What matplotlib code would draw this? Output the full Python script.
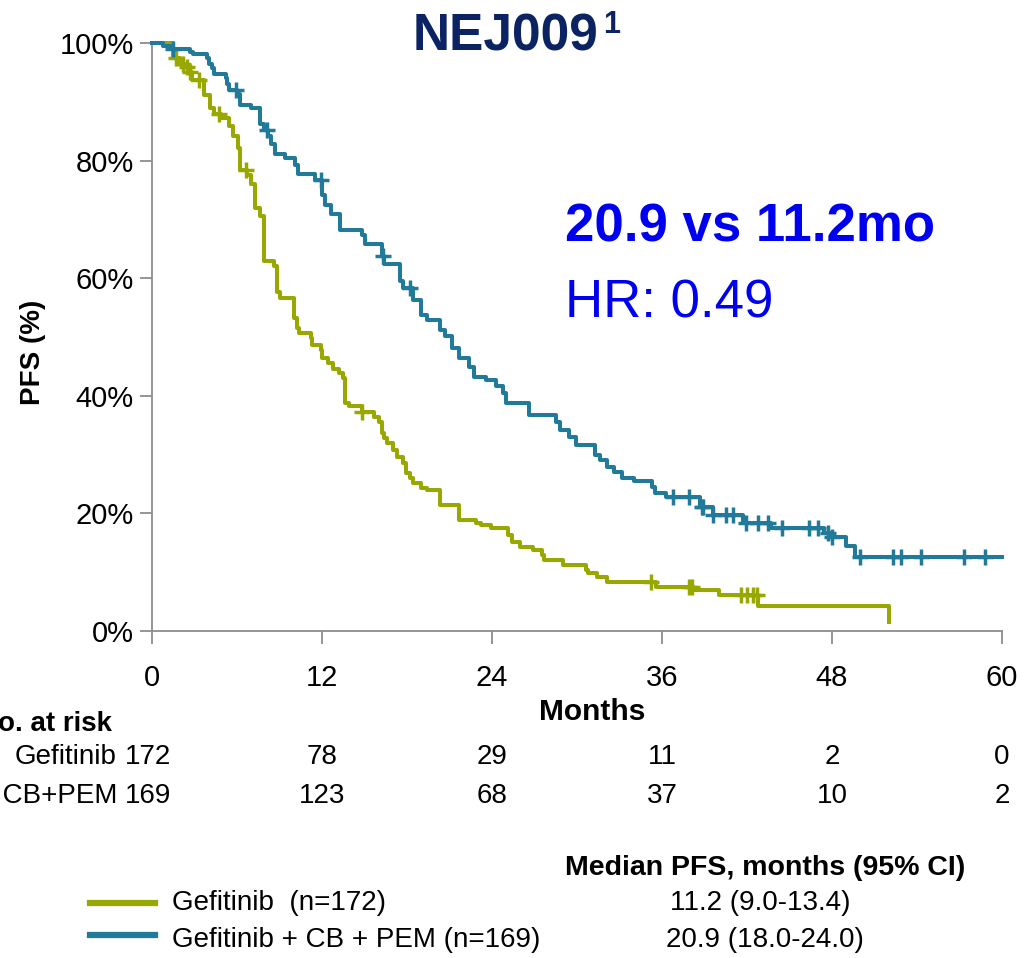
import numpy as np
import matplotlib
matplotlib.use("Agg")
import matplotlib.pyplot as plt
import matplotlib.transforms as mtransforms

plt.rcParams['font.family'] = ['Liberation Sans', 'DejaVu Sans']

# ---------------- data ----------------
months_ticks = [0, 12, 24, 36, 48, 60]
pct_ticks = [0, 20, 40, 60, 80, 100]

combo_t = [0, 0.8, 1.5, 2.7, 2.9, 3.9, 4.0, 4.2, 4.4, 5.2, 5.3, 5.4, 6.0, 6.2, 7.0, 7.6,
           7.9, 8.2, 8.4, 8.7, 9.4, 10.1, 10.3, 11.5, 12.0, 12.2, 12.6, 13.3, 14.8, 15.0,
           16.2, 16.4, 17.5, 17.7, 18.4, 19.0, 19.4, 20.3, 20.7, 21.2, 21.7, 22.4, 22.7,
           23.6, 24.3, 24.8, 25.0, 26.6, 28.5, 28.8, 29.4, 29.9, 31.3, 31.6, 32.1, 32.6,
           33.2, 34.0, 35.3, 35.5, 36.3, 38.7, 39.6, 41.7, 43.7, 47.4, 48.0, 49.0, 49.6, 60.0]
combo_s = [100, 99.5, 98.9, 98.5, 98.1, 97.4, 96.5, 95.7, 94.8, 94.0, 93.1, 92.0, 91.4, 89.5,
           88.9, 86.3, 85.2, 84.1, 82.9, 81.2, 80.5, 79.3, 77.8, 76.7, 74.1, 72.4, 71.0, 68.2,
           67.3, 65.9, 63.7, 62.4, 59.5, 58.3, 56.3, 53.7, 52.9, 51.2, 50.1, 48.1, 46.4, 44.9,
           43.2, 42.7, 41.6, 40.4, 38.7, 36.7, 35.6, 34.2, 33.0, 31.6, 29.9, 29.1, 27.9, 27.1,
           26.0, 25.5, 24.5, 23.4, 22.8, 21.1, 19.8, 18.3, 17.5, 16.7, 16.0, 14.5, 12.6, 12.6]
combo_cens = [1.5, 5.9, 8.1, 11.9, 16.3, 18.2, 36.8, 37.9, 38.8, 38.9, 39.6, 40.5, 41.0,
              41.9, 42.8, 43.5, 44.5, 46.4, 47.0, 47.7, 48.0, 50.0, 52.3, 52.9, 54.3, 57.3, 58.8]

gef_t = [0, 1.5, 2.0, 2.3, 2.6, 2.8, 3.7, 4.1, 4.4, 4.9, 5.4, 5.7, 6.1, 6.2, 6.7, 7.0, 7.3,
         7.6, 7.9, 8.6, 8.8, 9.0, 10.0, 10.2, 10.4, 11.2, 11.3, 11.9, 12.0, 12.4, 12.8, 13.2,
         13.5, 13.6, 13.9, 14.8, 15.7, 16.0, 16.2, 16.4, 16.6, 17.0, 17.3, 17.7, 17.9, 18.2,
         18.4, 19.0, 19.4, 20.3, 21.7, 22.9, 23.2, 23.9, 25.1, 25.4, 26.0, 26.9, 27.5, 27.7,
         29.0, 30.6, 30.8, 31.4, 32.1, 35.6, 38.2, 40.0, 42.8, 52.0]
gef_s = [100, 97.4, 96.5, 96.0, 95.1, 93.7, 91.2, 88.9, 88.0, 87.2, 85.8, 84.1, 82.1, 78.4,
         77.6, 76.1, 71.9, 70.5, 63.0, 62.0, 57.7, 56.6, 53.2, 51.5, 50.6, 49.8, 48.6, 47.8,
         46.4, 45.5, 44.6, 43.8, 43.0, 38.7, 38.2, 37.3, 36.4, 35.6, 33.6, 32.8, 31.9, 30.8,
         29.6, 28.5, 26.8, 26.0, 25.1, 24.3, 24.0, 21.4, 18.9, 18.3, 18.0, 17.5, 16.3, 15.2,
         14.3, 13.8, 12.9, 12.1, 11.2, 10.4, 9.8, 9.2, 8.4, 7.5, 7.0, 6.1, 4.3, 1.6]
gef_cens = [1.7, 2.2, 2.45, 2.7, 3.3, 4.7, 6.6, 14.8, 35.2, 37.9, 38.1, 41.6, 42.0, 42.4, 42.7]

risk_gef = [172, 78, 29, 11, 2, 0]
risk_combo = [169, 123, 68, 37, 10, 2]

GREEN = '#99A800'
BLUE = '#217A9A'
NAVY = '#0B2362'
TXTBLUE = '#0000F0'
GRAY = '#8C8C8C'

W, H = 1025, 958
fig = plt.figure(figsize=(W / 100, H / 100), dpi=100)
ax = fig.add_axes([152 / W, 1 - 631 / H, 850 / W, 588 / H])


def surv_at(t_arr, s_arr, times):
    idx = np.searchsorted(np.asarray(t_arr), np.asarray(times), side='right') - 1
    return np.asarray(s_arr)[idx]


for t, s, c, col in [(gef_t, gef_s, gef_cens, GREEN), (combo_t, combo_s, combo_cens, BLUE)]:
    ax.step(t, s, where='post', color=col, lw=2.9, clip_on=False, zorder=3)
    ax.plot(c, surv_at(t, s, c), linestyle='none', marker='+', ms=12, mew=2.5,
            color=col, clip_on=False, zorder=4)

ax.set_xlim(0, 60)
ax.set_ylim(0, 100)
ax.set_xticks(months_ticks)
ax.set_xticklabels([str(m) for m in months_ticks])
ax.set_yticks(pct_ticks)
ax.set_yticklabels([f'{p}%' for p in pct_ticks])
for sp in ['top', 'right']:
    ax.spines[sp].set_visible(False)
for sp in ['left', 'bottom']:
    ax.spines[sp].set_color(GRAY)
    ax.spines[sp].set_linewidth(1.3)
ax.tick_params(axis='both', colors=GRAY, length=9, width=1.3, labelcolor='black', labelsize=21)
ax.tick_params(axis='x', pad=15)
ax.tick_params(axis='y', pad=4)


def fx(x):
    return x / W


def fy(y):
    return 1 - y / H


fig.text(fx(33), fy(352), 'PFS (%)', rotation=90, fontsize=20, fontweight='bold',
         ha='center', va='center')
fig.text(fx(592), fy(712), 'Months', fontsize=21.5, fontweight='bold', ha='center', va='center')

# title
fig.text(fx(506), fy(37), 'NEJ009', fontsize=37, fontweight='bold', color=NAVY,
         ha='center', va='center')
fig.text(fx(603), fy(25), '1', fontsize=22, fontweight='bold', color=NAVY,
         ha='left', va='center')
fig.text(fx(565), fy(228), '20.9 vs 11.2mo', fontsize=38, fontweight='bold', color=TXTBLUE,
         ha='left', va='center')
fig.text(fx(565), fy(304), 'HR: 0.49', fontsize=38, color=TXTBLUE, ha='left', va='center')

# risk table
blend = mtransforms.blended_transform_factory(ax.transData, fig.transFigure)
fig.text(fx(112), fy(724), 'No. at risk', fontsize=20, fontweight='bold', ha='right', va='center')
fig.text(fx(117), fy(757), 'Gefitinib', fontsize=20, ha='right', va='center')
fig.text(fx(117), fy(796), 'Gefitinib + CB+PEM', fontsize=20, ha='right', va='center')
for m, g, c in zip(months_ticks, risk_gef, risk_combo):
    xm = m if m > 0 else -0.3
    ax.text(xm, fy(757), str(g), transform=blend, fontsize=20, ha='center', va='center')
    ax.text(xm, fy(796), str(c), transform=blend, fontsize=20, ha='center', va='center')

# legend and medians
fig.add_artist(plt.Line2D([fx(90), fx(155)], [fy(903), fy(903)], color=GREEN, lw=4.5))
fig.add_artist(plt.Line2D([fx(90), fx(155)], [fy(935), fy(935)], color=BLUE, lw=4.5))
fig.text(fx(172), fy(903), 'Gefitinib  (n=172)', fontsize=20, ha='left', va='center')
fig.text(fx(172), fy(940), 'Gefitinib + CB + PEM (n=169)', fontsize=20, ha='left', va='center')
fig.text(fx(765), fy(868), 'Median PFS, months (95% CI)', fontsize=20.5, fontweight='bold',
         ha='center', va='center')
fig.text(fx(760), fy(903), '11.2 (9.0-13.4)', fontsize=20, ha='center', va='center')
fig.text(fx(765), fy(940), '20.9 (18.0-24.0)', fontsize=20, ha='center', va='center')

fig.savefig('out.png', dpi=100)
